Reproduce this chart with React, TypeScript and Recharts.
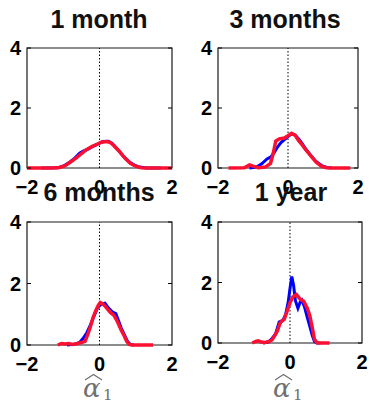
import React from 'react';
import { LineChart, Line, XAxis, YAxis, ReferenceArea, ReferenceLine } from 'recharts';

type Pt = [number, number];

// axis ticks shared by all four panels
const xTicks = [-2, 0, 2];
const yTicks = [0, 2, 4];

const titles = ['1 month', '3 months', '6 months', '1 year'];

// [alpha1, density]
const month1Blue: Pt[] = [[-1.6, 0], [-1.15, 0.01], [-1.0, 0.06], [-0.85, 0.17], [-0.7, 0.31], [-0.55, 0.49], [-0.45, 0.56], [-0.3, 0.64], [-0.15, 0.74], [0, 0.83], [0.1, 0.88], [0.25, 0.89], [0.35, 0.82], [0.5, 0.62], [0.65, 0.4], [0.8, 0.23], [0.95, 0.1], [1.1, 0.03], [1.3, 0], [1.7, 0]];
const month1Red: Pt[] = [[-2, 0], [-1.3, 0], [-1.1, 0.02], [-0.95, 0.08], [-0.8, 0.2], [-0.65, 0.33], [-0.5, 0.48], [-0.35, 0.62], [-0.2, 0.72], [-0.05, 0.8], [0.05, 0.86], [0.2, 0.88], [0.3, 0.85], [0.4, 0.74], [0.55, 0.55], [0.7, 0.33], [0.85, 0.16], [1.0, 0.06], [1.15, 0.01], [1.3, 0], [2, 0]];

const month3Blue: Pt[] = [[-1.1, 0], [-0.9, 0.03], [-0.75, 0.14], [-0.6, 0.3], [-0.5, 0.36], [-0.4, 0.5], [-0.3, 0.7], [-0.2, 0.85], [-0.1, 0.95], [0, 1.05], [0.1, 1.13], [0.2, 1.1], [0.3, 0.98], [0.4, 0.82], [0.5, 0.64], [0.65, 0.42], [0.8, 0.22], [0.95, 0.09], [1.1, 0.02], [1.25, 0]];
const month3Red: Pt[] = [[-1.7, 0], [-1.25, 0.01], [-1.1, 0.1], [-1.0, 0.06], [-0.85, 0.01], [-0.65, 0.03], [-0.5, 0.15], [-0.42, 0.5], [-0.35, 0.9], [-0.25, 0.97], [-0.1, 1.0], [0, 1.08], [0.1, 1.16], [0.2, 1.1], [0.3, 0.92], [0.4, 0.78], [0.5, 0.62], [0.6, 0.48], [0.7, 0.34], [0.8, 0.2], [0.95, 0.06], [1.1, 0.01], [1.3, 0], [1.78, 0]];

const month6Blue: Pt[] = [[-0.9, 0], [-0.7, 0.02], [-0.55, 0.08], [-0.45, 0.22], [-0.35, 0.4], [-0.25, 0.65], [-0.15, 0.95], [-0.05, 1.22], [0.05, 1.33], [0.15, 1.36], [0.25, 1.2], [0.35, 1.08], [0.45, 1.02], [0.52, 0.8], [0.6, 0.55], [0.7, 0.3], [0.78, 0.1], [0.85, 0.02], [0.95, 0]];
const month6Red: Pt[] = [[-1.15, 0], [-1.05, 0.05], [-0.95, 0.03], [-0.85, 0.05], [-0.75, 0.02], [-0.6, 0.05], [-0.5, 0.08], [-0.4, 0.12], [-0.32, 0.35], [-0.25, 0.6], [-0.18, 0.88], [-0.1, 1.12], [-0.03, 1.3], [0.02, 1.38], [0.1, 1.33], [0.2, 1.2], [0.3, 1.06], [0.4, 0.96], [0.5, 0.75], [0.6, 0.48], [0.68, 0.3], [0.75, 0.12], [0.82, 0.02], [0.9, 0], [1.48, 0]];

const year1Blue: Pt[] = [[-0.75, 0], [-0.6, 0.03], [-0.5, 0.15], [-0.4, 0.3], [-0.3, 0.7], [-0.2, 0.74], [-0.12, 0.95], [-0.05, 1.35], [0, 1.8], [0.05, 2.2], [0.1, 1.9], [0.15, 1.4], [0.22, 1.15], [0.28, 1.35], [0.33, 1.42], [0.4, 1.2], [0.48, 0.85], [0.55, 0.55], [0.62, 0.25], [0.68, 0.05], [0.75, 0], [0.85, 0]];
const year1Red: Pt[] = [[-1.05, 0], [-0.95, 0.05], [-0.88, 0.07], [-0.8, 0.03], [-0.7, 0.02], [-0.6, 0.04], [-0.5, 0.1], [-0.42, 0.25], [-0.35, 0.4], [-0.28, 0.65], [-0.22, 0.74], [-0.16, 0.78], [-0.08, 1.05], [0, 1.33], [0.08, 1.52], [0.18, 1.6], [0.28, 1.45], [0.38, 1.38], [0.48, 1.15], [0.55, 0.9], [0.62, 0.5], [0.68, 0.12], [0.75, 0.01], [0.85, 0], [1.1, 0]];

const FONT = '"Liberation Sans", Arial, sans-serif';
const BLUE = '#0000ff';
const RED = '#fa1030';

const toRows = (pts: Pt[]) => pts.map(([a, d]) => ({ a, d }));
const fmtX = (v: number) => String(v).replace('-', '\u2212');

interface PanelProps {
    left: number; top: number; w: number; h: number;
    blue: Pt[]; red: Pt[];
}

const Panel: React.FC<PanelProps> = ({ left, top, w, h, blue, red }) => {
    const ml = 7, yw = 20, mt = 10, mr = 10, xh = 25, mb = 5;

    // y tick label plus small inward ticks on both sides (matlab style)
    const YTick = (p: any) => {
        const axisX = p.x + 6;
        return (
            <g>
                <text x={p.x} y={p.y} dy="0.355em" textAnchor="end" fontFamily={FONT} fontSize={20} fontWeight="bold" fill="#000">
                    {p.payload.value}
                </text>
                <line x1={axisX} x2={axisX + 4} y1={p.y} y2={p.y} stroke="#000" />
                <line x1={axisX + w - 4} x2={axisX + w} y1={p.y} y2={p.y} stroke="#000" />
            </g>
        );
    };

    return (
        <div style={{ position: 'absolute', left: left - ml - yw, top: top - mt }}>
            <LineChart width={w + ml + yw + mr} height={h + mt + xh + mb} margin={{ top: mt, right: mr, left: ml, bottom: mb }}>
                <XAxis
                    type="number"
                    dataKey="a"
                    domain={[-2, 2]}
                    ticks={xTicks}
                    height={xh}
                    axisLine={false}
                    tickLine={false}
                    tickSize={0}
                    tickMargin={12}
                    tickFormatter={fmtX}
                    tick={{ fill: '#000', fontSize: 20, fontWeight: 'bold', fontFamily: FONT }}
                />
                <YAxis
                    type="number"
                    domain={[0, 4]}
                    ticks={yTicks}
                    width={yw}
                    axisLine={false}
                    tickLine={false}
                    tickSize={0}
                    tickMargin={6}
                    tick={YTick}
                />
                <ReferenceLine x={0} stroke="#000" strokeWidth={1} strokeDasharray="1.5 2" />
                <Line data={toRows(blue)} dataKey="d" type="linear" stroke={BLUE} strokeWidth={3} dot={false} isAnimationActive={false} />
                <Line data={toRows(red)} dataKey="d" type="linear" stroke={RED} strokeWidth={3.5} dot={false} isAnimationActive={false} />
                <ReferenceArea x1={-2} x2={2} y1={0} y2={4} fill="none" stroke="#000" strokeWidth={1.2} strokeOpacity={0.9} />
            </LineChart>
        </div>
    );
};

const AlphaLabel: React.FC<{ cx: number }> = ({ cx }) => (
    <g fill="#707070">
        <path d={`M${cx - 12} 380 L${cx - 3.5} 374.5 L${cx + 5} 380`} stroke="#707070" strokeWidth={1.2} fill="none" />
        <text x={cx - 14} y={397} fontFamily='"DejaVu Serif", serif' fontStyle="italic" fontSize={26}>α</text>
        <text x={cx + 6} y={400} fontFamily='"DejaVu Serif", serif' fontSize={15}>1</text>
    </g>
);

export default function App() {
    return (
        <div style={{ position: 'absolute', left: 0, top: 0, width: 370, height: 404, background: '#fff', overflow: 'hidden' }}>
            <Panel left={27} top={48} w={145} h={120} blue={month1Blue} red={month1Red} />
            <Panel left={218} top={48} w={140} h={120} blue={month3Blue} red={month3Red} />
            <Panel left={27} top={222} w={145} h={123} blue={month6Blue} red={month6Red} />
            <Panel left={218} top={222} w={144} h={121} blue={year1Blue} red={year1Red} />
            <svg width={370} height={404} style={{ position: 'absolute', left: 0, top: 0, pointerEvents: 'none' }}>
                <g fontFamily={FONT} fontSize={25} fontWeight="bold" fill="#111" textAnchor="middle">
                    <text x={99} y={28}>{titles[0]}</text>
                    <text x={285} y={28}>{titles[1]}</text>
                    <text x={99} y={201}>{titles[2]}</text>
                    <text x={291} y={201}>{titles[3]}</text>
                </g>
                <AlphaLabel cx={97} />
                <AlphaLabel cx={287} />
            </svg>
        </div>
    );
}
